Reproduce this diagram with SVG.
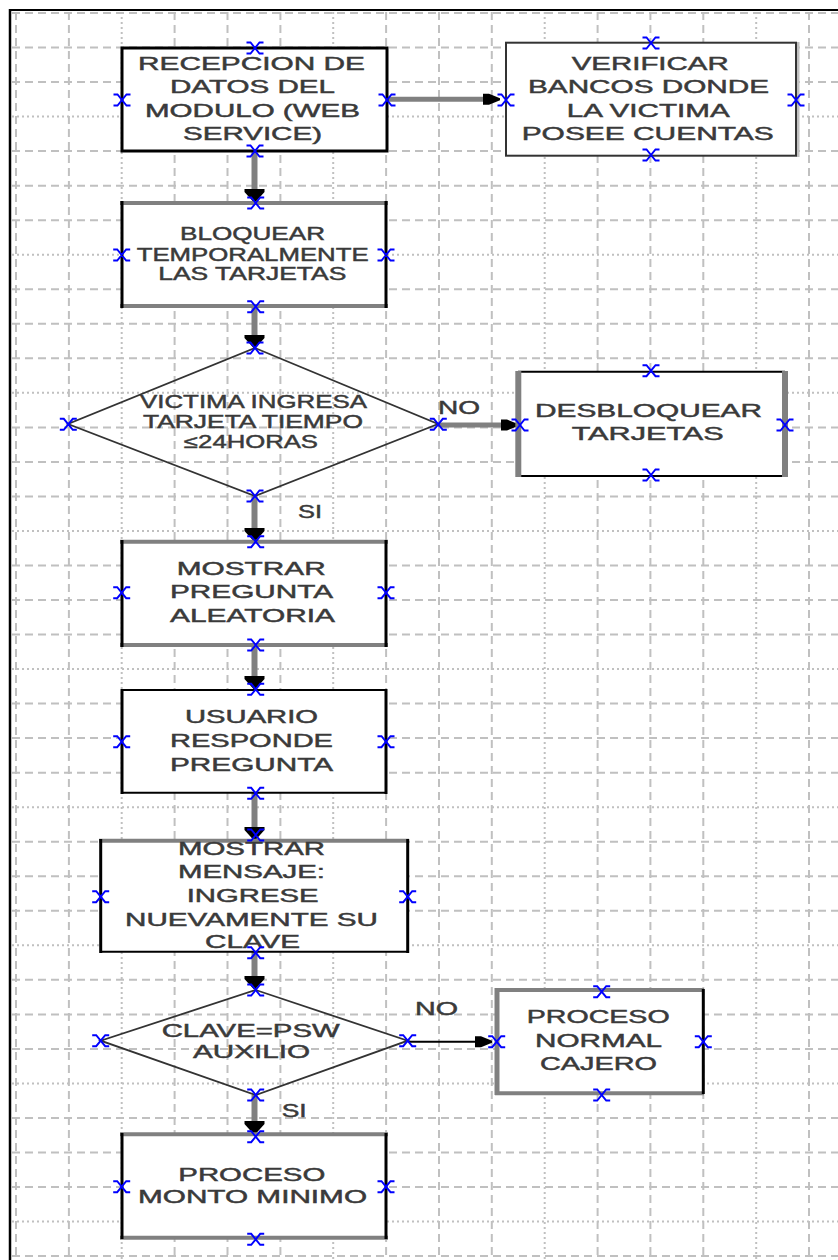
<svg xmlns="http://www.w3.org/2000/svg" width="838" height="1260" viewBox="0 0 838 1260">
  <style>
    .gd { stroke: #c0c0c0; stroke-width: 2; stroke-dasharray: 8 5; fill: none; }
    .gt { stroke: #c0c0c0; stroke-width: 2; stroke-dasharray: 2 3; fill: none; }
    .bx { fill: #ffffff; stroke: none; }
    .kb { stroke: #000000; stroke-width: 3; fill: none; }
    .kt { stroke: #000000; stroke-width: 2; fill: none; }
    .gy { stroke: #808080; stroke-width: 4; fill: none; }
    .dm { fill: none; stroke: #333333; stroke-width: 1.8; }
    .cn { stroke: #808080; stroke-width: 6; fill: none; }
    .ch { stroke: #808080; stroke-width: 5; fill: none; }
    .ck { stroke: #000000; stroke-width: 2; fill: none; }
    text { font-family: "Liberation Sans", Arial, sans-serif; font-size: 18px; fill: #3a3a3a; stroke: #3a3a3a; stroke-width: 0.45; }
    .pt { fill: none; stroke: #0000ff; stroke-width: 1.9; }
  </style>
  <defs>
    <marker id="arrDown" markerUnits="userSpaceOnUse" orient="auto" overflow="visible" markerWidth="30" markerHeight="30">
      <path d="M-2,-10 H1 L11,-1 V1 L1,10 H-2 Z" fill="#000000"/>
    </marker>
    <marker id="arrRight" markerUnits="userSpaceOnUse" orient="auto" overflow="visible" markerWidth="30" markerHeight="30">
      <path d="M-6,-5.5 H0 L11,-1 V1 L0,5.5 H-6 Z" fill="#000000"/>
    </marker>
    <path id="xp" class="pt" d="M-8.5,-5.5 H-4.5 L4.5,5.5 H8.5 M8.5,-5.5 H4.5 L-4.5,5.5 H-8.5"/>
  </defs>

  <rect x="0" y="0" width="838" height="1260" fill="#ffffff"/>

  <!-- background grid -->
  <g id="grid">
    <line class="gd" x1="12" y1="13" x2="838" y2="13"/>
    <line class="gd" x1="12" y1="47.5" x2="838" y2="47.5"/>
    <line class="gd" x1="12" y1="82.1" x2="838" y2="82.1"/>
    <line class="gt" x1="12" y1="116.6" x2="838" y2="116.6"/>
    <line class="gd" x1="12" y1="151.1" x2="838" y2="151.1"/>
    <line class="gd" x1="12" y1="185.7" x2="838" y2="185.7"/>
    <line class="gd" x1="12" y1="220.2" x2="838" y2="220.2"/>
    <line class="gt" x1="12" y1="254.7" x2="838" y2="254.7"/>
    <line class="gd" x1="12" y1="289.2" x2="838" y2="289.2"/>
    <line class="gd" x1="12" y1="323.8" x2="838" y2="323.8"/>
    <line class="gd" x1="12" y1="358.3" x2="838" y2="358.3"/>
    <line class="gt" x1="12" y1="392.8" x2="838" y2="392.8"/>
    <line class="gd" x1="12" y1="427.4" x2="838" y2="427.4"/>
    <line class="gd" x1="12" y1="461.9" x2="838" y2="461.9"/>
    <line class="gd" x1="12" y1="496.4" x2="838" y2="496.4"/>
    <line class="gt" x1="12" y1="531" x2="838" y2="531"/>
    <line class="gd" x1="12" y1="565.5" x2="838" y2="565.5"/>
    <line class="gd" x1="12" y1="600" x2="838" y2="600"/>
    <line class="gd" x1="12" y1="634.5" x2="838" y2="634.5"/>
    <line class="gt" x1="12" y1="669.1" x2="838" y2="669.1"/>
    <line class="gd" x1="12" y1="703.6" x2="838" y2="703.6"/>
    <line class="gd" x1="12" y1="738.1" x2="838" y2="738.1"/>
    <line class="gd" x1="12" y1="772.7" x2="838" y2="772.7"/>
    <line class="gt" x1="12" y1="807.2" x2="838" y2="807.2"/>
    <line class="gd" x1="12" y1="841.7" x2="838" y2="841.7"/>
    <line class="gd" x1="12" y1="876.3" x2="838" y2="876.3"/>
    <line class="gd" x1="12" y1="910.8" x2="838" y2="910.8"/>
    <line class="gt" x1="12" y1="945.3" x2="838" y2="945.3"/>
    <line class="gd" x1="12" y1="979.8" x2="838" y2="979.8"/>
    <line class="gd" x1="12" y1="1014.4" x2="838" y2="1014.4"/>
    <line class="gd" x1="12" y1="1048.9" x2="838" y2="1048.9"/>
    <line class="gt" x1="12" y1="1083.4" x2="838" y2="1083.4"/>
    <line class="gd" x1="12" y1="1118" x2="838" y2="1118"/>
    <line class="gd" x1="12" y1="1152.5" x2="838" y2="1152.5"/>
    <line class="gd" x1="12" y1="1187" x2="838" y2="1187"/>
    <line class="gt" x1="12" y1="1221.6" x2="838" y2="1221.6"/>
    <line class="gd" x1="12" y1="1256.1" x2="838" y2="1256.1"/>

    <line class="gd" x1="16" y1="12" x2="16" y2="1260"/>
    <line class="gd" x1="68.9" y1="12" x2="68.9" y2="1260"/>
    <line class="gt" x1="121.7" y1="12" x2="121.7" y2="1260"/>
    <line class="gd" x1="174.6" y1="12" x2="174.6" y2="1260"/>
    <line class="gd" x1="227.5" y1="12" x2="227.5" y2="1260"/>
    <line class="gd" x1="280.4" y1="12" x2="280.4" y2="1260"/>
    <line class="gt" x1="333.2" y1="12" x2="333.2" y2="1260"/>
    <line class="gd" x1="386.1" y1="12" x2="386.1" y2="1260"/>
    <line class="gd" x1="439" y1="12" x2="439" y2="1260"/>
    <line class="gd" x1="491.8" y1="12" x2="491.8" y2="1260"/>
    <line class="gt" x1="544.7" y1="12" x2="544.7" y2="1260"/>
    <line class="gd" x1="597.6" y1="12" x2="597.6" y2="1260"/>
    <line class="gd" x1="650.4" y1="12" x2="650.4" y2="1260"/>
    <line class="gd" x1="703.3" y1="12" x2="703.3" y2="1260"/>
    <line class="gt" x1="756.2" y1="12" x2="756.2" y2="1260"/>
    <line class="gd" x1="809" y1="12" x2="809" y2="1260"/>
  </g>

  <!-- page frame -->
  <g id="frame">
    <line x1="9" y1="10" x2="838" y2="10" stroke="#000000" stroke-width="2"/>
    <line x1="10" y1="9" x2="10" y2="1260" stroke="#000000" stroke-width="2.5"/>
  </g>

  <!-- connectors -->
  <g id="connectors">
    <line class="cn" x1="254.5" y1="151" x2="254.5" y2="191" marker-end="url(#arrDown)"/>
    <line class="ch" x1="387" y1="99.3" x2="489" y2="99.3" marker-end="url(#arrRight)"/>
    <line class="cn" x1="254.5" y1="306" x2="254.5" y2="337" marker-end="url(#arrDown)"/>
    <line class="ch" x1="438" y1="425" x2="507" y2="425" marker-end="url(#arrRight)"/>
    <line class="cn" x1="254.5" y1="496" x2="254.5" y2="530" marker-end="url(#arrDown)"/>
    <line class="cn" x1="254.5" y1="645" x2="254.5" y2="678" marker-end="url(#arrDown)"/>
    <line class="cn" x1="254.5" y1="793" x2="254.5" y2="829" marker-end="url(#arrDown)"/>
    <line class="cn" x1="254.5" y1="952" x2="254.5" y2="978" marker-end="url(#arrDown)"/>
    <line class="ck" x1="407.7" y1="1041.7" x2="481" y2="1041.7" marker-end="url(#arrRight)"/>
    <line class="cn" x1="254.5" y1="1095" x2="254.5" y2="1123" marker-end="url(#arrDown)"/>
  </g>

  <!-- nodes -->
  <g id="n-recepcion">
    <rect class="bx" x="122" y="48" width="265" height="103"/>
    <rect class="kb" x="122" y="48" width="265" height="103" stroke-width="2.5"/>
    <text x="138" y="70" textLength="227" lengthAdjust="spacingAndGlyphs">RECEPCION DE</text>
    <text x="170" y="93.3" textLength="165" lengthAdjust="spacingAndGlyphs">DATOS DEL</text>
    <text x="145" y="116.7" textLength="215" lengthAdjust="spacingAndGlyphs">MODULO (WEB</text>
    <text x="183" y="140" textLength="139" lengthAdjust="spacingAndGlyphs">SERVICE)</text>
  </g>

  <g id="n-verificar">
    <rect class="bx" x="506" y="42.7" width="290" height="113"/>
    <line x1="798" y1="42" x2="798" y2="157" stroke="#c0c0c0" stroke-width="3"/>
    <rect x="506" y="42.7" width="290" height="113" fill="none" stroke="#333333" stroke-width="2"/>
    <text x="571.7" y="70" textLength="157" lengthAdjust="spacingAndGlyphs">VERIFICAR</text>
    <text x="528" y="93.3" textLength="241" lengthAdjust="spacingAndGlyphs">BANCOS DONDE</text>
    <text x="566.7" y="116.7" textLength="163" lengthAdjust="spacingAndGlyphs">LA VICTIMA</text>
    <text x="521.7" y="140" textLength="252" lengthAdjust="spacingAndGlyphs">POSEE CUENTAS</text>
  </g>

  <g id="n-bloquear">
    <rect class="bx" x="122" y="203" width="264" height="103"/>
    <line class="gy" x1="120" y1="203" x2="388" y2="203"/>
    <line class="gy" x1="120" y1="306" x2="388" y2="306"/>
    <line class="kb" x1="122" y1="201" x2="122" y2="308"/>
    <line class="kb" x1="386" y1="201" x2="386" y2="308"/>
    <text x="180" y="240" textLength="145" lengthAdjust="spacingAndGlyphs">BLOQUEAR</text>
    <text x="136.7" y="261" textLength="232" lengthAdjust="spacingAndGlyphs">TEMPORALMENTE</text>
    <text x="158.3" y="280" textLength="188" lengthAdjust="spacingAndGlyphs">LAS TARJETAS</text>
  </g>

  <g id="n-victima">
    <polygon class="dm" points="255,348 438,424 255,496 68,424"/>
    <text x="140" y="408.3" textLength="227" lengthAdjust="spacingAndGlyphs">VICTIMA INGRESA</text>
    <text x="143" y="428.3" textLength="220" lengthAdjust="spacingAndGlyphs">TARJETA TIEMPO</text>
    <text x="184" y="448.3" textLength="134" lengthAdjust="spacingAndGlyphs">≤24HORAS</text>
    <text x="438" y="414" textLength="42" lengthAdjust="spacingAndGlyphs">NO</text>
    <text x="298" y="518.3" textLength="24" lengthAdjust="spacingAndGlyphs">SI</text>
  </g>

  <g id="n-desbloquear">
    <rect class="bx" x="518.3" y="371.7" width="266.7" height="104.3"/>
    <line class="kt" x1="518" y1="371.7" x2="785" y2="371.7"/>
    <line class="kt" x1="518" y1="476" x2="785" y2="476"/>
    <line x1="518.3" y1="371" x2="518.3" y2="477" stroke="#808080" stroke-width="6"/>
    <line x1="785" y1="371" x2="785" y2="477" stroke="#808080" stroke-width="6"/>
    <text x="535" y="416.7" textLength="227" lengthAdjust="spacingAndGlyphs">DESBLOQUEAR</text>
    <text x="571.7" y="440" textLength="152" lengthAdjust="spacingAndGlyphs">TARJETAS</text>
  </g>

  <g id="n-mostrar-pregunta">
    <rect class="bx" x="122" y="541.7" width="264" height="103.3"/>
    <line class="gy" x1="120" y1="541.7" x2="388" y2="541.7"/>
    <line class="gy" x1="120" y1="645" x2="388" y2="645"/>
    <line class="kb" x1="122" y1="540" x2="122" y2="647"/>
    <line class="kb" x1="386" y1="540" x2="386" y2="647"/>
    <text x="176.7" y="575" textLength="149" lengthAdjust="spacingAndGlyphs">MOSTRAR</text>
    <text x="170" y="598.3" textLength="163" lengthAdjust="spacingAndGlyphs">PREGUNTA</text>
    <text x="170" y="621.7" textLength="165" lengthAdjust="spacingAndGlyphs">ALEATORIA</text>
  </g>

  <g id="n-usuario">
    <rect class="bx" x="122" y="690" width="264" height="102.7"/>
    <line class="kt" x1="122" y1="690" x2="386" y2="690"/>
    <line class="kt" x1="122" y1="792.7" x2="386" y2="792.7"/>
    <line class="kb" x1="122" y1="689" x2="122" y2="794"/>
    <line class="kb" x1="386" y1="689" x2="386" y2="794"/>
    <text x="185" y="723.3" textLength="133" lengthAdjust="spacingAndGlyphs">USUARIO</text>
    <text x="170" y="747.3" textLength="163" lengthAdjust="spacingAndGlyphs">RESPONDE</text>
    <text x="170" y="770.7" textLength="163" lengthAdjust="spacingAndGlyphs">PREGUNTA</text>
  </g>

  <g id="n-mensaje">
    <rect class="bx" x="100.7" y="840.7" width="307" height="111"/>
    <line class="gy" x1="99" y1="840.7" x2="409" y2="840.7"/>
    <line class="kt" x1="100.7" y1="951.7" x2="407.7" y2="951.7"/>
    <line class="kb" x1="100.7" y1="839" x2="100.7" y2="953"/>
    <line class="kb" x1="407.7" y1="839" x2="407.7" y2="953"/>
    <text x="178" y="855" textLength="147" lengthAdjust="spacingAndGlyphs">MOSTRAR</text>
    <text x="178" y="878.3" textLength="147" lengthAdjust="spacingAndGlyphs">MENSAJE:</text>
    <text x="186.7" y="901.7" textLength="132" lengthAdjust="spacingAndGlyphs">INGRESE</text>
    <text x="125" y="926" textLength="253" lengthAdjust="spacingAndGlyphs">NUEVAMENTE SU</text>
    <text x="205" y="948.3" textLength="95" lengthAdjust="spacingAndGlyphs">CLAVE</text>
  </g>

  <g id="n-clave">
    <polygon class="dm" points="255.7,990 407.7,1040.7 255.7,1095 100.7,1040.7"/>
    <text x="161.7" y="1036.7" textLength="178" lengthAdjust="spacingAndGlyphs">CLAVE=PSW</text>
    <text x="193" y="1058.3" textLength="117" lengthAdjust="spacingAndGlyphs">AUXILIO</text>
    <text x="415" y="1015" textLength="43" lengthAdjust="spacingAndGlyphs">NO</text>
    <text x="281.7" y="1116.7" textLength="25" lengthAdjust="spacingAndGlyphs">SI</text>
  </g>

  <g id="n-normal">
    <rect class="bx" x="496.7" y="990" width="206.6" height="103.3"/>
    <line class="gy" x1="495" y1="990" x2="704" y2="990"/>
    <line class="gy" x1="495" y1="1093.3" x2="704" y2="1093.3"/>
    <line x1="497" y1="988" x2="497" y2="1095" stroke="#808080" stroke-width="5"/>
    <line class="kb" x1="703.3" y1="989" x2="703.3" y2="1094" stroke-width="2.5"/>
    <text x="526.7" y="1023.3" textLength="143" lengthAdjust="spacingAndGlyphs">PROCESO</text>
    <text x="535" y="1047.3" textLength="127" lengthAdjust="spacingAndGlyphs">NORMAL</text>
    <text x="540" y="1070" textLength="117" lengthAdjust="spacingAndGlyphs">CAJERO</text>
  </g>

  <g id="n-monto">
    <rect class="bx" x="122" y="1134.3" width="264" height="103.4"/>
    <line class="gy" x1="120" y1="1134.3" x2="388" y2="1134.3"/>
    <line class="gy" x1="120" y1="1237.7" x2="388" y2="1237.7"/>
    <line class="kb" x1="122" y1="1133" x2="122" y2="1239"/>
    <line class="kb" x1="386" y1="1133" x2="386" y2="1239"/>
    <text x="178.3" y="1181" textLength="147" lengthAdjust="spacingAndGlyphs">PROCESO</text>
    <text x="138" y="1203.3" textLength="229" lengthAdjust="spacingAndGlyphs">MONTO MINIMO</text>
  </g>

  <!-- connection point handles -->
  <g id="handles">
    <use href="#xp" x="255" y="48"/>
    <use href="#xp" x="122" y="100"/>
    <use href="#xp" x="387" y="100"/>
    <use href="#xp" x="255" y="151"/>
    <use href="#xp" x="651" y="43"/>
    <use href="#xp" x="506" y="100"/>
    <use href="#xp" x="796" y="100"/>
    <use href="#xp" x="651" y="155"/>
    <use href="#xp" x="255.7" y="203"/>
    <use href="#xp" x="121.7" y="255"/>
    <use href="#xp" x="386" y="255"/>
    <use href="#xp" x="255.7" y="306.7"/>
    <use href="#xp" x="255" y="348"/>
    <use href="#xp" x="68.3" y="424.3"/>
    <use href="#xp" x="438.3" y="424.3"/>
    <use href="#xp" x="255" y="496"/>
    <use href="#xp" x="651" y="370.7"/>
    <use href="#xp" x="520" y="425"/>
    <use href="#xp" x="785" y="425"/>
    <use href="#xp" x="651" y="475"/>
    <use href="#xp" x="255.7" y="541.7"/>
    <use href="#xp" x="121.7" y="592.7"/>
    <use href="#xp" x="386" y="592.7"/>
    <use href="#xp" x="255.7" y="645"/>
    <use href="#xp" x="255.7" y="689.3"/>
    <use href="#xp" x="121.7" y="741.7"/>
    <use href="#xp" x="386" y="741.7"/>
    <use href="#xp" x="255.7" y="793.3"/>
    <use href="#xp" x="255.7" y="835"/>
    <use href="#xp" x="100.7" y="896.7"/>
    <use href="#xp" x="407.7" y="896.7"/>
    <use href="#xp" x="255.7" y="952.7"/>
    <use href="#xp" x="255.7" y="990"/>
    <use href="#xp" x="100.7" y="1040.7"/>
    <use href="#xp" x="407.7" y="1040.7"/>
    <use href="#xp" x="255.7" y="1095"/>
    <use href="#xp" x="601.7" y="991.7"/>
    <use href="#xp" x="496.7" y="1041.7"/>
    <use href="#xp" x="703.3" y="1041.7"/>
    <use href="#xp" x="601.7" y="1095"/>
    <use href="#xp" x="255.7" y="1136.7"/>
    <use href="#xp" x="121.7" y="1186.7"/>
    <use href="#xp" x="386" y="1186.7"/>
    <use href="#xp" x="255.7" y="1239.3"/>
  </g>
</svg>
